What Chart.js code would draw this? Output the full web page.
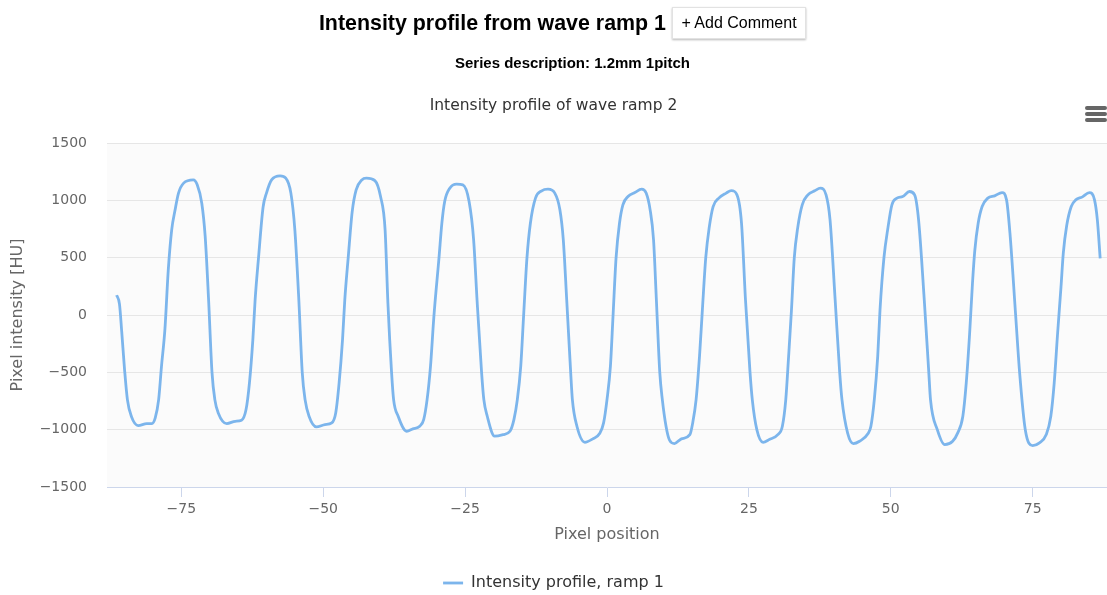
<!DOCTYPE html>
<html><head><meta charset="utf-8">
<script src="https://cdn.jsdelivr.net/npm/chart.js@4.4.1/dist/chart.umd.min.js"></script>
<style>
html,body{margin:0;padding:0;background:#fff;width:1107px;height:595px;overflow:hidden;}
#wrap{position:relative;width:1107px;height:595px;}
#c{position:absolute;left:0;top:0;z-index:1;}
.hdr{position:absolute;z-index:2;font-family:"Liberation Sans",Arial,sans-serif;color:#000;white-space:nowrap;}
#t1{right:441px;top:7px;height:32px;line-height:32px;font-size:21.4px;font-weight:bold;}
#btn{left:672px;top:7px;height:32px;width:134px;box-sizing:border-box;border:1px solid #e2e2e2;box-shadow:0 1px 2px rgba(0,0,0,0.28);background:#fff;font-size:16px;line-height:30px;text-align:center;}
#t2{left:0;width:1145px;top:53px;text-align:center;font-size:15px;font-weight:bold;line-height:20px;}
#menu{position:absolute;z-index:2;left:1085px;top:106px;width:22px;}
#menu span{display:block;height:4px;margin-bottom:2px;background:#666;border-radius:2px;}
</style></head>
<body>
<div id="wrap">
<canvas id="c" width="1107" height="595"></canvas>
<div class="hdr" id="t1">Intensity profile from wave ramp 1</div>
<div class="hdr" id="btn">+ Add Comment</div>
<div class="hdr" id="t2">Series description: 1.2mm 1pitch</div>
<div id="menu"><span></span><span></span><span></span></div>
</div>
<script>
// Pixel position (x) of each sampled point
const pixelPosition = [
-86.4,-85.9,-85.5,-85.0,-84.5,-83.8,-82.6,-81.1,-80.2,-79.6,-79.0,-78.5,-77.9,-77.3,-76.7,-76.1,-75.5,-74.6,-72.9,-72.2,-71.4,-70.8,
-70.2,-69.6,-69.1,-68.5,-67.0,-65.5,-64.4,-63.6,-63.0,-62.4,-62.0,-61.4,-60.6,-60.0,-59.1,-57.6,-56.6,-55.7,-55.0,
-54.3,-53.7,-53.2,-52.5,-51.2,-49.7,-48.5,-47.8,-47.2,-46.6,-46.2,-45.6,-44.9,-44.2,-43.2,-42.4,-40.9,-39.9,-39.1,
-38.6,-37.96,-37.6,-36.8,-35.3,-34.2,-33.0,-32.3,-31.7,-31.1,-30.5,-29.6,-29.1,-28.6,-27.7,-26.5,-25.4,-24.3,-23.5,
-22.9,-22.1,-21.7,-21.1,-19.8,-18.3,-17.1,-16.4,-15.8,-15.2,-14.7,-14.1,-13.5,-12.6,-11.5,-10.4,-9.2,-8.3,-7.7,
-7.1,-6.4,-6.1,-5.3,-3.9,-2.5,-1.3,-0.6,0.0,0.6,1.06,1.6,2.2,2.8,3.7,4.9,6.1,6.9,7.6,8.2,
8.7,9.3,9.75,10.4,11.0,11.9,13.1,14.6,15.1,15.7,16.3,16.8,17.4,18.0,18.7,19.7,21.0,21.9,22.9,23.7,
24.4,25.2,25.6,26.4,27.5,28.6,30.1,30.9,31.5,32.0,32.5,33.0,33.6,34.4,35.4,36.6,37.6,38.6,39.3,
40.2,41.0,41.4,42.4,43.4,44.5,46.0,46.5,47.1,47.7,48.1,48.8,49.5,50.2,51.1,52.1,53.3,54.2,54.9,
55.9,56.7,57.0,58.2,59.5,60.9,61.8,62.7,63.3,63.9,64.4,64.8,65.4,66.1,67.1,68.3,69.6,70.4,71.0,
72.0,72.7,73.7,75.0,76.2,77.4,78.2,78.8,79.4,80.0,80.4,81.0,81.8,82.6,83.7,85.0,85.9,86.4,86.9
];
// Pixel intensity [HU] at each position
const intensityRamp1 = [
174,95,-150,-480,-740,-885,-964,-947,-947,-897,-738,-448,-128,395,743,917,1063,1150,1178,1135,975,685,
133,-500,-738,-854,-947,-927,-918,-825,-592,-215,133,500,940,1063,1178,1213,1193,1063,743,
133,-500,-738,-883,-976,-956,-941,-854,-592,-215,133,500,900,1091,1178,1193,1172,1033,743,
100,-500,-738,-883,-1014,-993,-970,-912,-738,-448,-12,500,800,990,1106,1141,1135,990,656,
133,-500,-738,-883,-1057,-1043,-1014,-912,-738,-448,-12,500,800,1019,1083,1097,1063,917,656,
133,-500,-738,-970,-1110,-1080,-1034,-941,-738,-448,-12,500,800,961,1033,1068,1097,1063,917,656,
133,-500,-738,-970,-1090,-1121,-1080,-1043,-941,-738,-361,40,500,760,946,1019,1063,1085,1048,801,
133,-500,-738,-1000,-1110,-1086,-1043,-970,-738,-361,40,500,760,961,1048,1083,1106,1048,830,
133,-500,-738,-1030,-1121,-1101,-1034,-970,-738,-361,40,500,760,961,1019,1033,1077,1048,830,
133,-500,-738,-1000,-1130,-1101,-1028,-883,-592,-157,279,560,800,946,1019,1039,1068,1004,714,
0,-500,-1000,-1139,-1115,-1043,-883,-592,-157,249,540,780,946,1004,1028,1068,1004,830,493
];
const seriesName = 'Intensity profile, ramp 1';
const chartTitle = 'Intensity profile of wave ramp 2';
const xAxisTitle = 'Pixel position';
const yAxisTitle = 'Pixel intensity [HU]';
const xRange = [-88.1, 88.1];
const xTickStep = 25;
const yRange = [-1500, 1500];
const yTickStep = 500;

const fmt = v => String(v).replace('-', '\u2212');
Chart.defaults.font.family = '"DejaVu Sans", sans-serif';

const plotBg = {
  id: 'plotBg',
  beforeDraw(chart) {
    const a = chart.chartArea, ctx = chart.ctx;
    ctx.save();
    ctx.fillStyle = '#fbfbfb';
    ctx.fillRect(a.left, a.top, a.right - a.left, a.bottom - a.top);
    ctx.restore();
  }
};

new Chart(document.getElementById('c'), {
  type: 'line',
  data: {
    datasets: [{
      label: seriesName,
      data: pixelPosition.map((x, i) => ({x: x, y: intensityRamp1[i]})),
      borderColor: '#7cb5ec',
      backgroundColor: '#7cb5ec',
      borderWidth: 2.8,
      pointRadius: 0,
      fill: false,
      cubicInterpolationMode: 'monotone'
    }]
  },
  plugins: [plotBg],
  options: {
    responsive: false,
    animation: false,
    layout: { autoPadding: false, padding: { left: 0, right: 0, top: 0, bottom: -6 } },
    plugins: {
      tooltip: { enabled: false },
      title: {
        display: true, text: chartTitle, color: '#333',
        font: { size: 15.5, weight: 'normal' },
        padding: { top: 97, bottom: 27.4 }
      },
      legend: {
        position: 'bottom',
        labels: {
          usePointStyle: true, pointStyle: 'line', pointStyleWidth: 20,
          color: '#333', font: { size: 16 }, padding: 20
        }
      }
    },
    scales: {
      x: {
        type: 'linear', min: xRange[0], max: xRange[1],
        ticks: { stepSize: xTickStep, includeBounds: false, color: '#666', font: { size: 14 }, padding: 4, callback: v => fmt(v) },
        grid: { drawOnChartArea: false, drawTicks: true, tickLength: 10, color: '#ccd6eb', lineWidth: 1 },
        border: { display: true, color: '#ccd6eb', width: 1 },
        title: { display: true, text: xAxisTitle, color: '#666', font: { size: 16 }, padding: { top: 0, bottom: 10.4 } },
        afterFit: s => { s.height = 68; }
      },
      y: {
        min: yRange[0], max: yRange[1],
        ticks: { stepSize: yTickStep, color: '#666', font: { size: 14 }, padding: 20, callback: v => fmt(v) },
        grid: { drawTicks: false, lineWidth: 1, color: c => (c.tick && c.tick.value === yRange[0]) ? 'rgba(0,0,0,0)' : '#e6e6e6' },
        border: { display: false },
        title: { display: true, text: yAxisTitle, color: '#666', font: { size: 16 }, padding: { top: 8, bottom: 0 } },
        afterFit: s => { s.width = 107; }
      }
    }
  }
});
</script>
</body></html>
